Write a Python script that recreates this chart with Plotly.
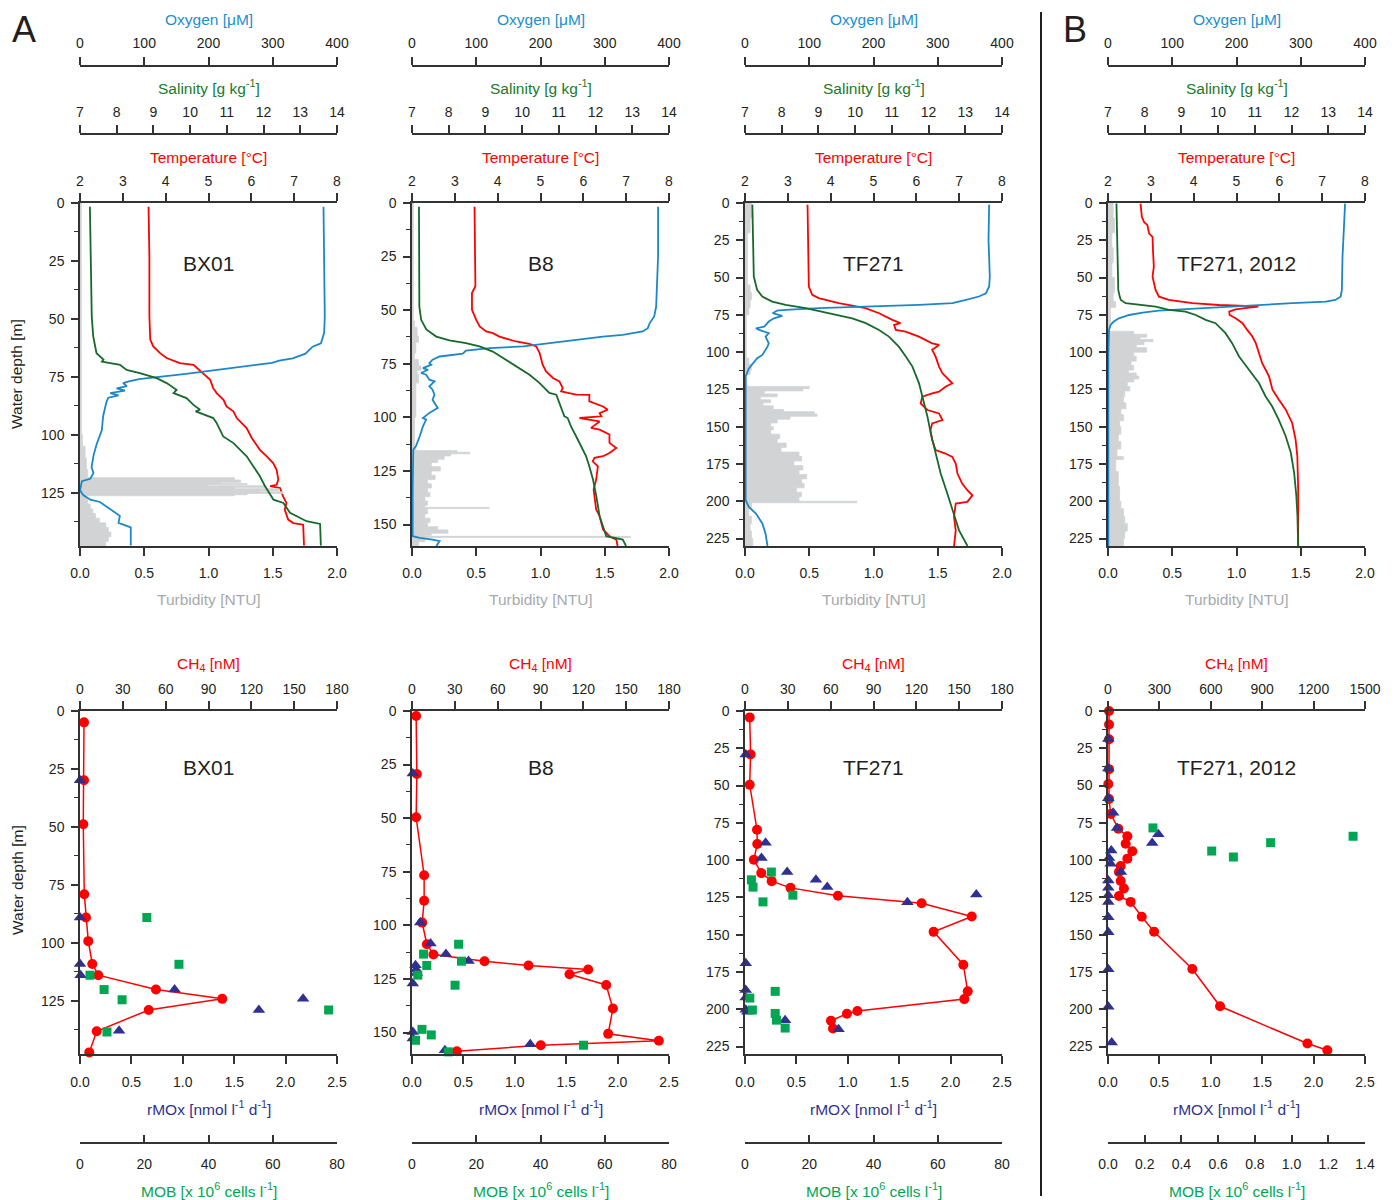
import plotly.graph_objects as go

W, H = 1396, 1200
PAGE_OFF = 8  # default body margin of the html page
FW, FH = W - PAGE_OFF, H - PAGE_OFF

# ======================= DATA =======================
# ---- BX01 CTD profiles ----
bx01_oxy_depth = [1.6, 23, 49, 56, 60.5, 62, 65, 67, 68, 69, 70.5, 72, 73, 73.7, 75, 76, 77, 77.7, 79, 80, 81, 82, 83, 84, 86, 92, 98, 104, 109, 114, 116.5, 119, 120, 124, 126, 128, 129, 132, 135, 138, 139, 140, 147.8]
bx01_oxy = [379, 380, 381, 380, 375, 362, 351, 331, 310, 299, 258, 216, 185, 165, 123, 92, 76, 67, 73, 57, 70, 47, 60, 44, 41, 36, 34, 26, 21, 18, 21, 16, 3, 0, 5, 16, 31, 47, 62, 60, 70, 79, 79]
bx01_sal_depth = [1.6, 23, 49, 57.6, 64.8, 67.6, 68.4, 69.8, 72, 73.4, 75.6, 77.7, 80.6, 82, 84.2, 87.1, 89.2, 89.9, 92.8, 94.9, 100.7, 103.6, 109.3, 117.9, 122.2, 128, 129.4, 133.7, 137.3, 138.5, 147.8]
bx01_sal = [7.27, 7.29, 7.32, 7.36, 7.45, 7.64, 7.60, 8.09, 8.27, 8.63, 9.09, 9.36, 9.63, 9.55, 9.90, 10.09, 10.27, 10.15, 10.63, 10.72, 10.90, 11.18, 11.54, 11.90, 12.04, 12.27, 12.54, 12.72, 13.17, 13.54, 13.56]
bx01_tmp_depth = [1.6, 23, 49, 58.9, 61.9, 64.8, 66.9, 67.9, 69.1, 69.8, 73.4, 76.3, 79.9, 82, 84.9, 87.8, 89.9, 92.8, 94.9, 97.1, 101.4, 106.5, 109.3, 112.2, 115.1, 119.4, 121.6, 122.2, 123, 126.6, 129.4, 132.3, 136.6, 138.1, 138.8, 147.8]
bx01_tmp = [3.60, 3.62, 3.62, 3.64, 3.71, 3.87, 4.02, 4.18, 4.33, 4.65, 4.88, 5.04, 5.11, 5.19, 5.35, 5.42, 5.58, 5.66, 5.77, 5.89, 6.01, 6.20, 6.36, 6.51, 6.59, 6.63, 6.59, 6.44, 6.67, 6.74, 6.82, 6.78, 6.86, 6.98, 7.21, 7.23]
bx01_tur_depth = [0, 100, 105, 110, 115, 118, 118.5, 119.5, 120.5, 121, 121.5, 122, 122.7, 123.3, 124, 124.6, 125.3, 125.9, 126.3, 128, 130, 132, 134, 136, 138, 140, 142, 144, 146, 148]
bx01_tur = [0.01, 0.02, 0.04, 0.05, 0.06, 0.06, 1.2, 1.25, 1.1, 1.3, 1.0, 1.45, 1.2, 1.55, 1.4, 1.58, 1.3, 1.2, 0.05, 0.06, 0.08, 0.1, 0.12, 0.15, 0.2, 0.22, 0.24, 0.22, 0.2, 0.18]

# ---- B8 CTD profiles ----
b8_oxy_depth = [1.7, 25, 48.3, 52.9, 56, 58.4, 59.9, 60.4, 61.5, 62.3, 63.8, 65.4, 66.9, 67.7, 68.8, 70.3, 71.6, 73.1, 74.7, 75.4, 77, 77.8, 79.3, 80.1, 82.4, 83.2, 85.5, 87.1, 89.4, 91.8, 95.6, 97.9, 100.3, 101.1, 104.2, 108.8, 113.5, 115, 133.7, 155.4, 156.2, 157, 157.7, 160]
b8_oxy = [383, 383, 380, 377, 370, 367, 359, 349, 328, 297, 256, 214, 173, 121, 84, 79, 43, 32, 27, 30, 17, 25, 14, 22, 27, 35, 27, 32, 35, 32, 40, 27, 17, 22, 17, 12, 6, 2, 1, 1, 12, 32, 43, 38]
b8_sal_depth = [1.7, 25, 48.3, 54.5, 59, 62.3, 64.1, 65.4, 66.9, 69.3, 72.3, 76.2, 80.1, 83.9, 88.6, 89.4, 93.3, 99.5, 100.3, 104.2, 108.8, 113.5, 118.1, 122.8, 129, 136.8, 146.1, 155.4, 157, 160]
b8_sal = [7.19, 7.19, 7.2, 7.25, 7.39, 7.66, 8.02, 8.47, 8.84, 9.2, 9.47, 9.84, 10.2, 10.47, 10.74, 10.93, 11.02, 11.15, 11.24, 11.33, 11.47, 11.61, 11.74, 11.83, 11.93, 12.02, 12.11, 12.29, 12.74, 12.83]
b8_tmp_depth = [1.7, 25, 38.8, 42, 49.8, 54.5, 57.6, 59.9, 60.7, 62.3, 64.6, 65.7, 66.9, 70, 73.1, 75.4, 78.6, 81.6, 83.2, 86.3, 87.9, 88.6, 89.4, 89.5, 92.5, 94.9, 96.4, 98, 99.5, 100.3, 101.1, 101.9, 104.9, 105.7, 108, 111.9, 114.3, 116.6, 118.1, 118.9, 120.5, 122.8, 129, 133.7, 143, 146.1, 152.3, 155.4, 157, 160]
b8_tmp = [3.46, 3.48, 3.48, 3.40, 3.40, 3.50, 3.58, 3.73, 3.89, 4.04, 4.43, 4.74, 4.90, 4.98, 5.02, 5.05, 5.13, 5.29, 5.44, 5.52, 5.48, 5.68, 5.83, 6.14, 6.14, 6.46, 6.57, 6.38, 6.42, 5.91, 6.14, 6.38, 6.18, 6.38, 6.61, 6.61, 6.77, 6.61, 6.46, 6.26, 6.22, 6.34, 6.30, 6.24, 6.30, 6.38, 6.46, 6.61, 6.77, 6.80]
b8_tur_depth = [0, 55, 58, 62, 65, 70, 73, 76, 78, 80, 84, 100, 114, 115.5, 116.3, 117, 118, 119.5, 121, 123, 125, 127, 129, 131, 133, 135, 137, 139, 141, 142, 142.5, 145, 147, 149, 151, 152.5, 154, 155, 155.5, 156, 158, 160]
b8_tur = [0.01, 0.02, 0.04, 0.05, 0.03, 0.02, 0.05, 0.07, 0.04, 0.05, 0.03, 0.02, 0.03, 0.35, 0.45, 0.3, 0.25, 0.2, 0.15, 0.22, 0.15, 0.18, 0.12, 0.15, 0.12, 0.14, 0.1, 0.12, 0.1, 0.6, 0.12, 0.1, 0.14, 0.12, 0.2, 0.28, 0.15, 0.1, 1.7, 0.1, 0.05, 0.03]

# ---- TF271 CTD profiles ----
tf_oxy_depth = [1.1, 24.6, 49.3, 56, 60.5, 62.7, 65, 67.2, 68.3, 69, 69.4, 70.5, 71.7, 72.1, 73.9, 75.7, 77.3, 79.5, 82.9, 84, 85.1, 87.3, 89.6, 94.1, 96.3, 101.9, 104.1, 108.6, 110.9, 113.1, 116.4, 147.8, 199.3, 203.8, 208.2, 214.9, 221.7, 230]
tf_oxy = [380, 379, 381, 380, 375, 364, 344, 323, 271, 219, 167, 115, 63, 50, 43, 58, 45, 37, 30, 17, 22, 37, 32, 37, 35, 27, 19, 11, 6, 4, 1, 1, 1, 6, 17, 27, 32, 35]
tf_sal_depth = [1.1, 24.6, 49.3, 58.2, 62.7, 66.1, 68.3, 70.5, 72.8, 75, 77.3, 80.6, 85.1, 89.6, 96.3, 103, 109.7, 120.9, 134.4, 143.3, 154.5, 168, 181.4, 194.8, 206, 219.5, 230]
tf_sal = [7.2, 7.21, 7.24, 7.33, 7.47, 7.74, 8.11, 8.65, 9.1, 9.56, 9.92, 10.29, 10.65, 10.92, 11.19, 11.38, 11.56, 11.74, 11.88, 11.97, 12.06, 12.19, 12.33, 12.51, 12.65, 12.83, 13.06]
tf_tmp_depth = [1.1, 24.6, 56, 61.6, 63.8, 67.2, 69.4, 70.5, 73.9, 76.1, 78.4, 80.6, 81.7, 85.1, 86.2, 89.6, 94.1, 95.2, 98.5, 103, 109.7, 114.2, 118.7, 120.9, 123.2, 126.5, 127.6, 129.9, 134.4, 136.6, 138.8, 141.1, 145.5, 147.8, 152.3, 159, 165.7, 168, 170.2, 174.7, 181.4, 188.1, 192.6, 196, 200.4, 201.5, 210.5, 219.5, 230]
tf_tmp = [3.46, 3.48, 3.49, 3.57, 3.72, 4.19, 4.66, 4.81, 5.13, 5.28, 5.44, 5.63, 5.48, 5.52, 5.75, 6.06, 6.37, 6.53, 6.37, 6.45, 6.53, 6.61, 6.76, 6.84, 6.68, 6.53, 6.37, 6.14, 6.10, 6.18, 6.26, 6.53, 6.61, 6.37, 6.33, 6.37, 6.45, 6.68, 6.84, 6.92, 6.96, 7.07, 7.19, 7.31, 7.19, 6.92, 6.88, 6.92, 6.88]
tf_tur_depth = [0, 5, 10, 20, 50, 55, 60, 65, 70, 75, 100, 104, 108, 112, 115, 122, 123, 124.5, 126, 128, 130, 132, 134, 136, 138.5, 140, 141.5, 143, 145, 147.5, 150, 152, 155, 158, 161, 164, 167, 170, 173, 176, 179, 182, 185, 188, 191, 194, 197, 200, 201, 205, 210, 215, 220, 225, 230]
tf_tur = [0.05, 0.06, 0.04, 0.02, 0.02, 0.04, 0.05, 0.04, 0.03, 0.01, 0.01, 0.03, 0.05, 0.04, 0.01, 0.02, 0.5, 0.45, 0.15, 0.25, 0.12, 0.2, 0.14, 0.22, 0.3, 0.54, 0.56, 0.35, 0.25, 0.2, 0.22, 0.2, 0.27, 0.25, 0.32, 0.28, 0.42, 0.44, 0.38, 0.45, 0.42, 0.48, 0.44, 0.46, 0.4, 0.44, 0.42, 0.87, 0.05, 0.03, 0.05, 0.04, 0.05, 0.06, 0.05]

# ---- TF271, 2012 CTD profiles ----
tf12_oxy_depth = [0.4, 18.2, 36.1, 58.3, 62.8, 65, 66.1, 67.2, 68.4, 69.5, 70.6, 72.2, 73.5, 75.1, 77.3, 79.5, 81.7, 85.1, 102.9, 125.2, 230]
tf12_oxy = [369, 367, 365, 364, 362, 354, 339, 287, 235, 183, 131, 79, 54, 33, 17, 9, 4, 1.6, 0.5, 0.5, 0.5]
tf12_sal_depth = [0.4, 36.1, 58.3, 62.8, 65, 67.2, 68.4, 69.5, 71.7, 72.8, 75.1, 78.4, 80.6, 87.3, 94, 102.9, 111.8, 120.7, 129.6, 136.3, 145.2, 156.4, 167.5, 180.9, 196.5, 209.9, 230]
tf12_sal = [7.23, 7.25, 7.28, 7.32, 7.35, 7.48, 7.85, 8.3, 8.66, 9.11, 9.39, 9.66, 9.93, 10.2, 10.38, 10.57, 10.84, 11.11, 11.29, 11.47, 11.65, 11.84, 11.98, 12.07, 12.13, 12.16, 12.18]
tf12_tmp_depth = [0.4, 9.3, 12.7, 14.9, 20.5, 22.7, 31.6, 42.7, 49.4, 53.9, 58.3, 62.8, 65, 67.2, 68.4, 69, 69.5, 70.1, 71.3, 72.8, 75.1, 77.3, 80.6, 85.1, 89.5, 94, 100.7, 107.4, 116.3, 125.2, 131.9, 138.6, 147.5, 158.6, 169.8, 192, 230]
tf12_tmp = [2.76, 2.79, 2.84, 2.92, 2.96, 3.04, 3.05, 3.07, 3.04, 3.07, 3.11, 3.19, 3.42, 3.97, 4.59, 5.21, 5.51, 5.29, 4.98, 4.83, 4.84, 4.98, 5.14, 5.25, 5.37, 5.45, 5.52, 5.60, 5.76, 5.84, 5.99, 6.15, 6.30, 6.38, 6.42, 6.44, 6.44]
tf12_tur_depth = [0, 10, 20, 30, 40, 50, 60, 66, 70, 80, 85, 86, 88, 90, 91.5, 93, 95, 97, 100, 103, 106, 109, 112, 114, 116, 118, 120, 123, 126, 130, 134, 138, 142, 146, 150, 155, 160, 165, 170, 172, 180, 190, 200, 205, 210, 215, 220, 225, 230]
tf12_tur = [0.04, 0.05, 0.03, 0.04, 0.03, 0.05, 0.04, 0.06, 0.02, 0.01, 0.01, 0.2, 0.3, 0.25, 0.35, 0.28, 0.22, 0.3, 0.2, 0.22, 0.18, 0.2, 0.16, 0.22, 0.24, 0.2, 0.15, 0.17, 0.13, 0.12, 0.14, 0.1, 0.12, 0.09, 0.1, 0.08, 0.1, 0.07, 0.12, 0.06, 0.08, 0.09, 0.1, 0.12, 0.13, 0.15, 0.13, 0.12, 0.1]

# ---- Bottom row: CH4 / rMOx / MOB ----
bx01_ch4_depth = [4.9, 29.9, 48.9, 79.1, 89.1, 99.3, 109.2, 114.0, 120.2, 124.2, 129.0, 138.2, 147.3]
bx01_ch4 = [2.8, 2.8, 2.3, 3.0, 4.2, 5.8, 8.6, 12.8, 53.2, 99.6, 48.1, 11.7, 6.5]
bx01_rmox_depth = [29.9, 89.1, 109.2, 114.0, 120.2, 124.2, 129.0, 138.0]
bx01_rmox = [0.0, 0.0, 0.0, 0.006, 0.92, 2.17, 1.74, 0.38]
bx01_mob_depth = [89.1, 109.3, 114.0, 120.2, 124.6, 129.0, 138.5]
bx01_mob = [20.8, 30.8, 3.1, 7.5, 13.1, 77.4, 8.4]

b8_ch4_depth = [2.3, 29.4, 49.6, 76.6, 88.5, 98.7, 108.8, 113.6, 116.7, 118.7, 120.6, 122.8, 127.8, 138.8, 150.6, 153.8, 155.9, 158.7]
b8_ch4 = [2.9, 3.4, 2.9, 8.5, 8.5, 7.1, 10.4, 15.0, 50.8, 81.6, 123.4, 110.3, 136.0, 140.7, 137.4, 172.9, 90.2, 31.4]
b8_rmox_depth = [29.1, 98.7, 108.5, 113.4, 116.6, 118.6, 120.6, 122.2, 127.1, 149.7, 152.8, 155.4, 158.2]
b8_rmox = [0.008, 0.08, 0.18, 0.33, 0.55, 0.034, 0.04, 0.047, 0.008, 0.008, 0.008, 1.15, 0.32]
b8_mob_depth = [108.8, 113.4, 116.7, 118.7, 123.2, 127.9, 148.5, 151.1, 153.6, 155.9, 159.0]
b8_mob = [14.5, 3.6, 15.4, 4.6, 1.8, 13.4, 3.1, 6.0, 1.1, 53.4, 11.3]

tf_ch4_depth = [4.3, 29.1, 49.5, 79.6, 89.2, 99.7, 108.7, 114.1, 118.6, 123.9, 128.9, 137.8, 148.1, 170.1, 188.0, 193.2, 201.2, 203.0, 207.7, 212.9]
tf_ch4 = [3.3, 3.9, 3.3, 8.4, 8.6, 6.2, 11.4, 18.7, 31.9, 65.1, 123.7, 158.8, 132.1, 152.9, 156.0, 153.6, 78.7, 71.4, 60.2, 61.6]
tf_rmox_depth = [29.1, 88.4, 98.5, 108.0, 113.2, 118.1, 123.0, 128.2, 169.2, 187.1, 192.1, 200.3, 201.7, 207.3, 213.4]
tf_rmox = [0.007, 0.20, 0.16, 0.41, 0.69, 0.80, 2.25, 1.58, 0.007, 0.007, 0.007, 0.007, 0.023, 0.39, 0.91]
tf_mob_depth = [108.0, 113.2, 118.1, 123.5, 128.0, 188.0, 192.5, 200.5, 202.8, 207.3, 212.6]
tf_mob = [8.2, 2.0, 2.5, 14.9, 5.6, 9.4, 1.5, 2.3, 9.4, 9.8, 12.5]

tf12_ch4_depth = [0, 9, 19, 39, 49, 59, 69, 79, 84, 89, 94, 99, 104, 108, 114, 119, 124, 128, 138, 148, 173, 198, 223, 227.5]
tf12_ch4 = [6, 6, 6, 6, 2, 6, 16, 60, 113, 103, 142, 113, 74, 64, 74, 93, 64, 132, 197, 269, 492, 654, 1164, 1280]
tf12_rmox_depth = [18.8, 38.5, 58.5, 68.3, 78.4, 82.7, 88.5, 93.5, 98.6, 102.4, 108.0, 113.6, 118.6, 123.5, 128.0, 138.3, 148.4, 173.2, 198.3, 222.3]
tf12_rmox = [0.003, 0.003, 0.003, 0.05, 0.088, 0.49, 0.43, 0.032, 0.01, 0.026, 0.126, 0.003, 0.003, 0.003, 0.003, 0.003, 0.003, 0.003, 0.003, 0.036]
tf12_mob_depth = [78.4, 84.0, 88.3, 93.9, 97.9]
tf12_mob = [0.245, 1.335, 0.886, 0.565, 0.683]

station_labels = ["BX01", "B8", "TF271", "TF271, 2012"]
depth_max = [148, 160, 230, 230]

# ======================= STYLE =======================
C_OXY = "#1b87c9"
C_OXY_T = "#1a8fd2"
C_SAL = "#17692b"
C_SAL_T = "#1a7a2a"
C_TMP = "#ff0000"
C_TUR = "#d1d3d4"
C_TUR_T = "#a7a9ac"
C_RMOX = "#2e3192"
C_MOB = "#00a651"
C_AX = "#333333"
C_TXT = "#231f20"
FONT = "Liberation Sans, Arial, sans-serif"
TITLE_SIZE = 15.5
TICK_SIZE = 14

COLS = [(80, 337), (412, 669), (745, 1002), (1108, 1365)]

def px2x(px):
    return (px - PAGE_OFF) / FW

def py2y(py):
    return 1 - (py - PAGE_OFF) / FH

fig = go.Figure()
lay = dict(width=FW, height=FH, margin=dict(l=0, r=0, t=0, b=0, autoexpand=False),
           paper_bgcolor="white", plot_bgcolor="rgba(0,0,0,0)", showlegend=False,
           font=dict(family=FONT, size=TICK_SIZE, color=C_TXT))
annotations = []
counters = {"x": 0, "y": 0}


def new_ax(k):
    counters[k] += 1
    n = counters[k]
    suf = "" if n == 1 else str(n)
    return k + "axis" + suf, k + suf


def axbase(rng, dtick, fmt=None, tick0=None):
    d = dict(range=rng, dtick=dtick, tick0=rng[0] if tick0 is None else tick0, tickmode="linear",
             showgrid=False, zeroline=False, automargin=False,
             showline=True, linecolor=C_AX, linewidth=1.5, ticks="outside", ticklen=8,
             tickwidth=1.5, tickcolor=C_AX, fixedrange=True,
             tickfont=dict(family=FONT, size=TICK_SIZE, color=C_TXT))
    if fmt:
        d["tickformat"] = fmt
    return d


def yaxis_def(dmax, dom, anchor):
    d = axbase([dmax, 0], 25, tick0=0)
    d.update(domain=dom, anchor=anchor, ticklen=7, ticklabelstandoff=4,
             minor=dict(dtick=12.5, tick0=0, ticks="outside", ticklen=4, tickwidth=1.2, tickcolor=C_AX))
    return d


def annot(text, px, py, color=C_TXT, size=TITLE_SIZE, angle=0):
    annotations.append(dict(text=text, x=px2x(px), y=py2y(py), xref="paper", yref="paper",
                            showarrow=False, xanchor="center", yanchor="middle",
                            font=dict(family=FONT, size=size, color=color), textangle=angle))


def top_panel(ci, dmax, od, o, sd, s, td, t, ud, u, label):
    l, r = COLS[ci]
    cx = (l + r) / 2
    dom = [px2x(l), px2x(r)]
    yname, yref = new_ax("y")
    tname, tref = new_ax("x")
    uname, uref = new_ax("x")
    oname, oref = new_ax("x")
    sname, sref = new_ax("x")
    lay[yname] = yaxis_def(dmax, [py2y(546), py2y(203)], tref)
    a = axbase([2, 8], 1)
    a.update(domain=dom, anchor=yref, side="top", ticklabelstandoff=2)
    lay[tname] = a
    a = axbase([0, 2], 0.5, ".1f")
    a.update(domain=dom, overlaying=tref, anchor=yref, side="bottom", ticklabelstandoff=5)
    lay[uname] = a
    a = axbase([0, 400], 100)
    a.update(domain=dom, overlaying=tref, anchor="free", position=py2y(65.5), side="top",
             ticklabelstandoff=3)
    lay[oname] = a
    a = axbase([7, 14], 1)
    a.update(domain=dom, overlaying=tref, anchor="free", position=py2y(134), side="top",
             ticklabelstandoff=3)
    lay[sname] = a

    fig.add_trace(go.Scatter(x=u, y=ud, xaxis=uref, yaxis=yref, mode="lines", fill="tozerox",
                             fillcolor=C_TUR, line=dict(color=C_TUR, width=0.8, shape="vh"), hoverinfo="skip"))
    fig.add_trace(go.Scatter(x=s, y=sd, xaxis=sref, yaxis=yref, mode="lines",
                             line=dict(color=C_SAL, width=1.8)))
    fig.add_trace(go.Scatter(x=t, y=td, xaxis=tref, yaxis=yref, mode="lines",
                             line=dict(color=C_TMP, width=1.8)))
    fig.add_trace(go.Scatter(x=o, y=od, xaxis=oref, yaxis=yref, mode="lines",
                             line=dict(color=C_OXY, width=1.8)))

    annot("Oxygen [μM]", cx, 19, C_OXY_T)
    annot("Salinity [g kg<sup>-1</sup>]", cx, 87, C_SAL_T)
    annot("Temperature [°C]", cx, 157, C_TMP)
    annot("Turbidity [NTU]", cx, 599, C_TUR_T)
    annot(label, cx, 263, C_TXT, 21)


def bot_panel(ci, dmax, ch4_rng, ch4_dt, mob_rng, mob_dt, mob_fmt, cd, c, rd, rv, md, mv, label, rtitle):
    l, r = COLS[ci]
    cx = (l + r) / 2
    dom = [px2x(l), px2x(r)]
    yname, yref = new_ax("y")
    cname, cref = new_ax("x")
    rname, rref = new_ax("x")
    mname, mref = new_ax("x")
    lay[yname] = yaxis_def(dmax, [py2y(1054), py2y(711)], cref)
    a = axbase(ch4_rng, ch4_dt)
    a.update(domain=dom, anchor=yref, side="top", ticklabelstandoff=2)
    lay[cname] = a
    a = axbase([0, 2.5], 0.5, ".1f")
    a.update(domain=dom, overlaying=cref, anchor=yref, side="bottom", ticklabelstandoff=6)
    lay[rname] = a
    a = axbase(mob_rng, mob_dt, mob_fmt)
    a.update(domain=dom, overlaying=cref, anchor="free", position=py2y(1143), side="bottom",
             ticks="inside", ticklen=7, ticklabelstandoff=8)
    lay[mname] = a

    fig.add_trace(go.Scatter(x=mv, y=md, xaxis=mref, yaxis=yref, mode="markers", cliponaxis=False,
                             marker=dict(symbol="square", size=9, color=C_MOB)))
    fig.add_trace(go.Scatter(x=c, y=cd, xaxis=cref, yaxis=yref, mode="lines+markers", cliponaxis=False,
                             line=dict(color=C_TMP, width=1.5),
                             marker=dict(symbol="circle", size=10, color=C_TMP)))
    fig.add_trace(go.Scatter(x=rv, y=rd, xaxis=rref, yaxis=yref, mode="markers", cliponaxis=False,
                             marker=dict(symbol="triangle-up", size=11, color=C_RMOX)))

    annot("CH<sub>4</sub> [nM]", cx, 664, C_TMP)
    annot(label, cx, 767, C_TXT, 21)
    annot(rtitle, cx, 1108, C_RMOX)
    annot("MOB [x 10<sup>6</sup> cells l<sup>-1</sup>]", cx, 1190, C_MOB)


top_panel(0, depth_max[0], bx01_oxy_depth, bx01_oxy, bx01_sal_depth, bx01_sal, bx01_tmp_depth, bx01_tmp,
          bx01_tur_depth, bx01_tur, station_labels[0])
top_panel(1, depth_max[1], b8_oxy_depth, b8_oxy, b8_sal_depth, b8_sal, b8_tmp_depth, b8_tmp,
          b8_tur_depth, b8_tur, station_labels[1])
top_panel(2, depth_max[2], tf_oxy_depth, tf_oxy, tf_sal_depth, tf_sal, tf_tmp_depth, tf_tmp,
          tf_tur_depth, tf_tur, station_labels[2])
top_panel(3, depth_max[3], tf12_oxy_depth, tf12_oxy, tf12_sal_depth, tf12_sal, tf12_tmp_depth, tf12_tmp,
          tf12_tur_depth, tf12_tur, station_labels[3])

rm_lo = "rMOx [nmol l<sup>-1</sup> d<sup>-1</sup>]"
rm_up = "rMOX [nmol l<sup>-1</sup> d<sup>-1</sup>]"
bot_panel(0, depth_max[0], [0, 180], 30, [0, 80], 20, None, bx01_ch4_depth, bx01_ch4,
          bx01_rmox_depth, bx01_rmox, bx01_mob_depth, bx01_mob, station_labels[0], rm_lo)
bot_panel(1, depth_max[1], [0, 180], 30, [0, 80], 20, None, b8_ch4_depth, b8_ch4,
          b8_rmox_depth, b8_rmox, b8_mob_depth, b8_mob, station_labels[1], rm_lo)
bot_panel(2, depth_max[2], [0, 180], 30, [0, 80], 20, None, tf_ch4_depth, tf_ch4,
          tf_rmox_depth, tf_rmox, tf_mob_depth, tf_mob, station_labels[2], rm_up)
bot_panel(3, depth_max[3], [0, 1500], 300, [0, 1.4], 0.2, ".1f", tf12_ch4_depth, tf12_ch4,
          tf12_rmox_depth, tf12_rmox, tf12_mob_depth, tf12_mob, station_labels[3], rm_up)

annot("Water depth [m]", 17, 374, C_TXT, TITLE_SIZE, -90)
annot("Water depth [m]", 17, 880, C_TXT, TITLE_SIZE, -90)
annot("A", 24, 29, C_TXT, 36)
annot("B", 1075, 29, C_TXT, 36)

lay["annotations"] = annotations
lay["shapes"] = [dict(type="line", xref="paper", yref="paper", x0=px2x(1041), x1=px2x(1041),
                      y0=py2y(12), y1=py2y(1196), line=dict(color="#231f20", width=2))]
fig.update_layout(**lay)
fig.write_html("out.html")
